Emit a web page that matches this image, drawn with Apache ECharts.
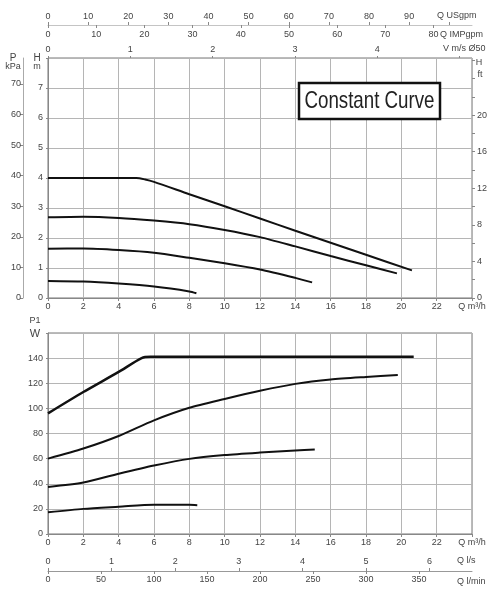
<!DOCTYPE html>
<html><head><meta charset="utf-8">
<script src="https://cdn.jsdelivr.net/npm/echarts@6/dist/echarts.min.js"></script>
<style>html,body{margin:0;padding:0;background:#fff}#c{width:493px;height:590px}</style>
</head><body><div id="c"></div>
<script>
// ---- data (Q in m³/h) ----
const hQ1 = [0, 2, 4, 5, 5.5, 6, 8, 10, 12, 14, 16, 18, 20.6];
const hH1 = [4.0, 4.0, 4.0, 4.0, 3.95, 3.87, 3.46, 3.06, 2.65, 2.24, 1.84, 1.44, 0.92];
const hQ2 = [0, 2, 4, 6, 8, 10, 12, 14, 16, 18, 19.75];
const hH2 = [2.69, 2.71, 2.67, 2.58, 2.46, 2.27, 2.03, 1.72, 1.40, 1.09, 0.82];
const hQ3 = [0, 2, 4, 6, 8, 10, 12, 14, 14.95];
const hH3 = [1.64, 1.65, 1.60, 1.51, 1.34, 1.16, 0.95, 0.67, 0.52];
const hQ4 = [0, 2, 4, 6, 8, 8.4];
const hH4 = [0.57, 0.55, 0.48, 0.38, 0.22, 0.16];

const pQ1 = [0, 2, 4, 5.3, 5.8, 10, 15, 20.7];
const pW1 = [96, 113, 129, 140, 141, 141, 141, 141];
const pQ2 = [0, 2, 4, 6, 8, 10, 12, 14, 16, 18, 19.8];
const pW2 = [60, 68, 78, 90.5, 100.5, 107.5, 114, 119.5, 123, 125, 126.5];
const pQ3 = [0, 2, 4, 6, 8, 10, 12, 14, 15.1];
const pW3 = [37.5, 41, 48, 54.5, 59.8, 62.8, 64.8, 66.5, 67.3];
const pQ4 = [0, 2, 4, 6, 8, 8.45];
const pW4 = [17.3, 20, 21.7, 23.3, 23.2, 22.9];

// ---- tick labels ----
const hLabels = [0, 1, 2, 3, 4, 5, 6, 7];
const kPaLabels = [0, 10, 20, 30, 40, 50, 60, 70];
const ftLabels = [0, 4, 8, 12, 16, 20];
const usLabels = [0, 10, 20, 30, 40, 50, 60, 70, 80, 90];
const impLabels = [0, 10, 20, 30, 40, 50, 60, 70, 80];
const vLabels = [0, 1, 2, 3, 4];
const wLabels = [0, 20, 40, 60, 80, 100, 120, 140];
const lsLabels = [0, 1, 2, 3, 4, 5, 6];
const lminLabels = [0, 50, 100, 150, 200, 250, 300, 350];

// unit conversions (from m³/h and m)
const Q_MAX = 24, H_MAX = 8;
const US_PER = 0.2271247, IMP_PER = 0.2727654, V_PER = 4.66;

const zip = (a, b) => a.map((v, i) => [v, b[i]]);
const only = list => v => (list.indexOf(Math.round(v * 1000) / 1000) >= 0 ? String(Math.round(v)) : '');
const lab = { fontSize: 9, color: '#444', fontFamily: 'Liberation Sans, Arial, sans-serif', hideOverlap: false };
const line = (show, color) => ({ show: show, onZero: false, lineStyle: { color: color || '#888', width: 1 } });
const split = { show: true, lineStyle: { color: '#b5b5b5', width: 1 } };
const tk = (len, inside) => ({ show: true, length: len, inside: !!inside, lineStyle: { color: '#888' } });

const chart = echarts.init(document.getElementById('c'), null, { renderer: 'canvas' });

function lineSeries(data, xi, yi, w) {
  return { type: 'line', data, xAxisIndex: xi, yAxisIndex: yi, symbol: 'none', smooth: 0.25,
    lineStyle: { color: '#111', width: w || 2 }, silent: true, animation: false };
}

const mainX = (gi) => ({
  gridIndex: gi, type: 'value', min: 0, max: Q_MAX, interval: 2, position: 'bottom',
  axisLine: line(true), axisTick: tk(3),
  axisLabel: Object.assign({}, lab, { margin: 4, showMaxLabel: true,
    formatter: v => v === 24 ? 'Q m³/h' : String(v) }),
  splitLine: split
});

chart.setOption({
  animation: false,
  backgroundColor: '#fff',
  grid: [
    { left: 48, top: 58, width: 424, height: 240, show: true, borderColor: '#777', borderWidth: 1 },
    { left: 48, top: 333, width: 424, height: 201, show: true, borderColor: '#777', borderWidth: 1 }
  ],
  xAxis: [
    mainX(0),
    { gridIndex: 0, type: 'value', min: 0, max: Q_MAX / US_PER, interval: 10, position: 'top', offset: 33,
      axisLine: line(true, '#c4c4c4'), axisTick: tk(3),
      axisLabel: Object.assign({}, lab, { margin: 4, showMaxLabel: false, formatter: only(usLabels) }), splitLine: { show: false } },
    { gridIndex: 0, type: 'value', min: 0, max: Q_MAX / IMP_PER, interval: 10, position: 'top', offset: 33,
      axisLine: line(false), axisTick: tk(3, true),
      axisLabel: Object.assign({}, lab, { inside: true, margin: 5, showMaxLabel: false, formatter: only(impLabels) }), splitLine: { show: false } },
    { gridIndex: 0, type: 'value', min: 0, max: Q_MAX / V_PER, interval: 1, position: 'top', offset: 0,
      axisLine: line(false), axisTick: tk(2),
      axisLabel: Object.assign({}, lab, { margin: 4, showMaxLabel: false, formatter: only(vLabels) }), splitLine: { show: false } },
    mainX(1),
    { gridIndex: 1, type: 'value', min: 0, max: Q_MAX / 3.6, interval: 1, position: 'bottom', offset: 37,
      axisLine: line(true, '#999'), axisTick: tk(3, true),
      axisLabel: Object.assign({}, lab, { inside: true, margin: 5, showMaxLabel: false, formatter: only(lsLabels) }), splitLine: { show: false } },
    { gridIndex: 1, type: 'value', min: 0, max: Q_MAX * 1000 / 60, interval: 50, position: 'bottom', offset: 37,
      axisLine: line(false), axisTick: tk(3),
      axisLabel: Object.assign({}, lab, { margin: 4, showMaxLabel: false, formatter: only(lminLabels) }), splitLine: { show: false } }
  ],
  yAxis: [
    { gridIndex: 0, type: 'value', min: 0, max: H_MAX, interval: 1, position: 'left',
      axisLine: line(true), axisTick: tk(2),
      axisLabel: Object.assign({}, lab, { margin: 5, formatter: only(hLabels) }), splitLine: split },
    { gridIndex: 0, type: 'value', min: 0, max: H_MAX * 9.80665, interval: 10, position: 'left', offset: 25,
      axisLine: line(true, '#aaa'), axisTick: tk(3),
      axisLabel: Object.assign({}, lab, { margin: 2, showMaxLabel: false, formatter: only(kPaLabels) }), splitLine: { show: false } },
    { gridIndex: 0, type: 'value', min: 0, max: H_MAX * 3.28084, interval: 2, position: 'right',
      axisLine: line(false), axisTick: tk(3),
      axisLabel: Object.assign({}, lab, { margin: 5, showMaxLabel: false, formatter: only(ftLabels) }), splitLine: { show: false } },
    { gridIndex: 1, type: 'value', min: 0, max: 160, interval: 20, position: 'left',
      axisLine: line(true), axisTick: tk(2),
      axisLabel: Object.assign({}, lab, { margin: 5, formatter: only(wLabels) }), splitLine: split }
  ],
  series: [
    lineSeries(zip(hQ1, hH1), 0, 0),
    lineSeries(zip(hQ2, hH2), 0, 0),
    lineSeries(zip(hQ3, hH3), 0, 0),
    lineSeries(zip(hQ4, hH4), 0, 0),
    lineSeries(zip(pQ1, pW1), 4, 3, 2.5),
    lineSeries(zip(pQ2, pW2), 4, 3),
    lineSeries(zip(pQ3, pW3), 4, 3),
    lineSeries(zip(pQ4, pW4), 4, 3)
  ],
  graphic: [
    { type: 'rect', shape: { x: 299, y: 83, width: 141, height: 36 }, style: { fill: '#fff', stroke: '#111', lineWidth: 2.5 }, z: 10 },
    { type: 'text', x: 369.5, y: 101.5, scaleX: 0.78, z: 11,
      style: { text: 'Constant Curve', x: 0, y: 0, align: 'center', verticalAlign: 'middle',
        font: '24px "Liberation Sans", Arial, sans-serif', fill: '#222' } },
    { type: 'text', style: { text: 'P', x: 13, y: 58, align: 'center', verticalAlign: 'middle', font: '10px "Liberation Sans"', fill: '#444' } },
    { type: 'text', style: { text: 'kPa', x: 13, y: 67, align: 'center', verticalAlign: 'middle', font: '9px "Liberation Sans"', fill: '#444' } },
    { type: 'text', style: { text: 'H', x: 37, y: 58, align: 'center', verticalAlign: 'middle', font: '10px "Liberation Sans"', fill: '#444' } },
    { type: 'text', style: { text: 'm', x: 37, y: 67, align: 'center', verticalAlign: 'middle', font: '9px "Liberation Sans"', fill: '#444' } },
    { type: 'text', style: { text: 'H', x: 479, y: 63, align: 'center', verticalAlign: 'middle', font: '9px "Liberation Sans"', fill: '#444' } },
    { type: 'text', style: { text: 'ft', x: 480, y: 75, align: 'center', verticalAlign: 'middle', font: '9px "Liberation Sans"', fill: '#444' } },
    { type: 'text', style: { text: 'P1', x: 35, y: 321, align: 'center', verticalAlign: 'middle', font: '9px "Liberation Sans"', fill: '#444' } },
    { type: 'text', style: { text: 'W', x: 35, y: 334, align: 'center', verticalAlign: 'middle', font: '11px "Liberation Sans"', fill: '#444' } },
    { type: 'text', style: { text: 'Q USgpm', x: 437, y: 16, align: 'left', verticalAlign: 'middle', font: '9px "Liberation Sans"', fill: '#444' } },
    { type: 'text', style: { text: 'Q IMPgpm', x: 440, y: 35, align: 'left', verticalAlign: 'middle', font: '9px "Liberation Sans"', fill: '#444' } },
    { type: 'text', style: { text: 'V m/s Ø50', x: 443, y: 49, align: 'left', verticalAlign: 'middle', font: '9px "Liberation Sans"', fill: '#444' } },
    { type: 'text', style: { text: 'Q l/s', x: 457, y: 561, align: 'left', verticalAlign: 'middle', font: '9px "Liberation Sans"', fill: '#444' } },
    { type: 'text', style: { text: 'Q l/min', x: 457, y: 582, align: 'left', verticalAlign: 'middle', font: '9px "Liberation Sans"', fill: '#444' } }
  ]
});
</script>
</body></html>
